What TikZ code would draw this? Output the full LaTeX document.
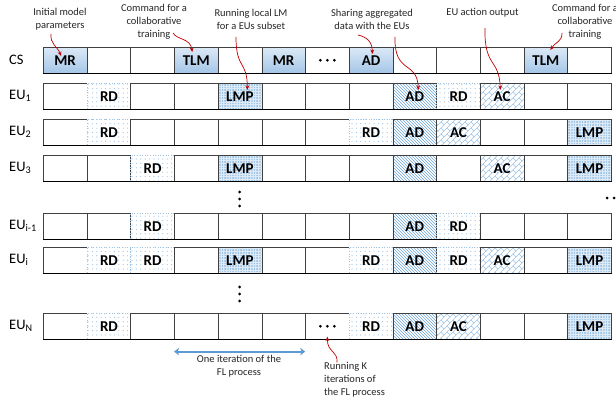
\documentclass[tikz,border=0pt]{standalone}
\usepackage{fontspec}
\setmainfont{Carlito}
\usetikzlibrary{patterns,arrows.meta,calc}
\pgfdeclarepatternformonly{sparsedots}{\pgfqpoint{-1pt}{-1pt}}{\pgfqpoint{1pt}{1pt}}{\pgfqpoint{4.4pt}{4.4pt}}{\pgfpathcircle{\pgfqpoint{0pt}{0pt}}{0.6pt}\pgfusepath{fill}}
\pgfdeclarepatternformonly{densedots}{\pgfqpoint{-0.5pt}{-0.5pt}}{\pgfqpoint{0.5pt}{0.5pt}}{\pgfqpoint{1.6pt}{1.6pt}}{\pgfpathrectangle{\pgfqpoint{-0.4pt}{-0.4pt}}{\pgfqpoint{0.8pt}{0.8pt}}\pgfusepath{fill}}
\pgfdeclarepatternformonly{diagbricks}{\pgfqpoint{-0.5pt}{-0.5pt}}{\pgfqpoint{6.5pt}{6.5pt}}{\pgfqpoint{6pt}{6pt}}{\pgfsetlinewidth{0.55pt}\pgfpathmoveto{\pgfqpoint{0pt}{0pt}}\pgfpathlineto{\pgfqpoint{6pt}{6pt}}\pgfpathmoveto{\pgfqpoint{3pt}{3pt}}\pgfpathlineto{\pgfqpoint{6pt}{0pt}}\pgfusepath{stroke}}
\pgfdeclarepatternformonly{nwlines}{\pgfqpoint{-0.5pt}{-0.5pt}}{\pgfqpoint{3.5pt}{3.5pt}}{\pgfqpoint{3pt}{3pt}}{\pgfsetlinewidth{0.6pt}\pgfpathmoveto{\pgfqpoint{0pt}{3pt}}\pgfpathlineto{\pgfqpoint{3pt}{0pt}}\pgfusepath{stroke}}
\definecolor{cellline}{HTML}{404040}
\definecolor{gtop}{HTML}{DCE9F6}
\definecolor{gbot}{HTML}{A4C6E8}
\definecolor{pblue}{HTML}{9DC3E6}
\definecolor{hblue}{HTML}{6FA5DA}
\definecolor{annred}{HTML}{C00000}
\definecolor{arrblue}{HTML}{5B9BD5}
\definecolor{lfill}{HTML}{DDEAF6}
\newcommand{\cellrow}[3]{%
  \foreach \k/\t [count=\c from 0] in {#3} {\node[\k] (r#1c\c) at ({43+43.7*\c},#2) {\t};}%
}
\tikzset{
  cell/.style={draw=cellline, line width=0.6pt, minimum width=43.7pt, minimum height=26pt, inner sep=0pt, anchor=north west, font=\fontsize{15}{15}\selectfont\bfseries, text=black},
  ecell/.style={cell, fill=white},
  gcell/.style={cell, top color=gtop, bottom color=gbot},
  rcell/.style={cell, draw=pblue, dotted, line width=0.8pt, preaction={fill=white}, pattern=sparsedots, pattern color=pblue},
  lcell/.style={cell, preaction={fill=lfill}, pattern=densedots, pattern color=pblue},
  acell/.style={cell, preaction={fill=white}, pattern=nwlines, pattern color=hblue},
  ccell/.style={cell, preaction={fill=white}, pattern=diagbricks, pattern color=pblue},
  dcell/.style={ecell, path picture={\fill[black] ([xshift=-7pt]path picture bounding box.center) circle (1.5pt) (path picture bounding box.center) circle (1.5pt) ([xshift=7pt]path picture bounding box.center) circle (1.5pt);}},
  rowlab/.style={anchor=west, inner sep=0pt, font=\fontsize{14.5}{14.5}\selectfont},
  ann/.style={inner sep=0pt, align=center, font=\fontsize{10.5}{13}\selectfont, text=black!85},
  redarr/.style={draw=annred, line width=0.7pt, -{Stealth[length=4.5pt,width=3.8pt]}},
  bluearr/.style={draw=arrblue, line width=1.8pt, {Stealth[length=5pt,width=7.5pt]}-{Stealth[length=5pt,width=7.5pt]}},
  bottomline/.style={draw=black, line width=0.9pt}
}
\begin{document}
\begin{tikzpicture}[x=1pt,y=-1pt]
\fill[white] (0,0) rectangle (616,401);
\useasboundingbox (0,0) rectangle (616,401);
% rows
\cellrow{0}{47}{gcell/MR, ecell/{}, ecell/{}, gcell/TLM, ecell/{}, gcell/MR, dcell/{}, gcell/AD, ecell/{}, ecell/{}, ecell/{}, gcell/TLM, ecell/{}}
\cellrow{1}{83}{ecell/{}, rcell/RD, ecell/{}, ecell/{}, lcell/LMP, ecell/{}, ecell/{}, ecell/{}, acell/AD, rcell/RD, ccell/AC, ecell/{}, ecell/{}}
\cellrow{2}{119}{ecell/{}, rcell/RD, ecell/{}, ecell/{}, ecell/{}, ecell/{}, ecell/{}, rcell/RD, acell/AD, ccell/AC, ecell/{}, ecell/{}, lcell/LMP}
\cellrow{3}{155}{ecell/{}, ecell/{}, rcell/RD, ecell/{}, lcell/LMP, ecell/{}, ecell/{}, ecell/{}, acell/AD, ecell/{}, ccell/AC, ecell/{}, lcell/LMP}
\cellrow{4}{213}{ecell/{}, ecell/{}, rcell/RD, ecell/{}, ecell/{}, ecell/{}, ecell/{}, ecell/{}, acell/AD, rcell/RD, ecell/{}, ecell/{}, ecell/{}}
\cellrow{5}{247}{ecell/{}, rcell/RD, rcell/RD, ecell/{}, lcell/LMP, ecell/{}, ecell/{}, rcell/RD, acell/AD, rcell/RD, ccell/AC, ecell/{}, lcell/LMP}
\cellrow{6}{313}{ecell/{}, rcell/RD, ecell/{}, ecell/{}, ecell/{}, ecell/{}, dcell/{}, rcell/RD, acell/AD, ccell/AC, ecell/{}, ecell/{}, lcell/LMP}
\foreach \r in {0,...,6} \draw[bottomline] (r\r c0.south west) -- (r\r c12.south east);
% row labels
\node[rowlab] (l0) at (9,60) {CS};
\node[rowlab] (l1) at (9,96) {EU\textsubscript{1}};
\node[rowlab] (l2) at (9,132) {EU\textsubscript{2}};
\node[rowlab] (l3) at (9,168) {EU\textsubscript{3}};
\node[rowlab] (l4) at (9,226) {EU\textsubscript{i-1}};
\node[rowlab] (l5) at (9,260) {EU\textsubscript{i}};
\node[rowlab] (l6) at (9,326) {EU\textsubscript{N}};
% vertical and horizontal ellipses
\foreach \yy in {192,199,206,287,294,301} \fill (239.6,\yy) circle (1.6pt);
\foreach \xx in {607,614,621} \fill (\xx,198) circle (1.5pt);
% annotations
\node[ann, anchor=south] (a1) at (60,30.5) {Initial model\\parameters};
\node[ann, anchor=south] (a2) at (154,39.5) {Command for a\\collaborative\\training};
\node[ann, anchor=south] (a3) at (251,29.3) {Running local LM\\for a EUs subset};
\node[ann, anchor=south] (a4) at (372,29.3) {Sharing aggregated\\data with the EUs};
\node[ann, anchor=south] (a5) at (482.5,17.5) {EU action output};
\node[ann, anchor=south] (a6) at (585,39.5) {Command for a\\collaborative\\training};
\node[ann, anchor=south] (a7) at (239,377.5) {One iteration of the\\FL process};
\node[ann, anchor=north west, align=left] (a8) at (324,362.5) {Running K\\iterations of\\the FL process};
% red arrows
\draw[redarr] ($(a1.south)+(-9,3.5)$) .. controls +(-1,10) and +(-4,-10) .. ($(r0c0.north)+(-4,9)$);
\draw[redarr] ($(a2.south)+(19,-6.5)$) .. controls +(4,7) and +(-2,-14) .. ($(r0c3.north)+(-4,5)$);
\draw[redarr] ($(a3.south)+(-15,7.7)$) .. controls +(0,33) and +(0,-30) .. ($(r1c4.north)+(7.35,7)$);
\draw[redarr] ($(a4.south)+(-14,5.7)$) .. controls +(9,2) and +(0,-12) .. ($(r0c7.north)+(1.25,7)$);
\draw[redarr] ($(a4.south)+(23,7.7)$) .. controls +(-1,38) and +(-1,-30) .. ($(r1c8.north)+(3.55,7)$);
\draw[redarr] ($(a5.south)+(2.5,10.5)$) .. controls +(-1,40) and +(-1,-32) .. ($(r1c10.north)+(-1.85,7)$);
\draw[redarr] ($(a6.south)+(-23,-6.5)$) .. controls +(0,9) and +(6,-9) .. ($(r0c11.north)+(4.5,3)$);
\draw[redarr] ($(a8.north west)+(13,0)$) .. controls +(1,-12) and +(0,16) .. ($(r6c6.south)+(0,-3)$);
% blue double arrow
\draw[bluearr] ($(r6c3.south west)+(0,12)$) -- ($(r6c6.south west)+(0,12)$);
\end{tikzpicture}
\end{document}
